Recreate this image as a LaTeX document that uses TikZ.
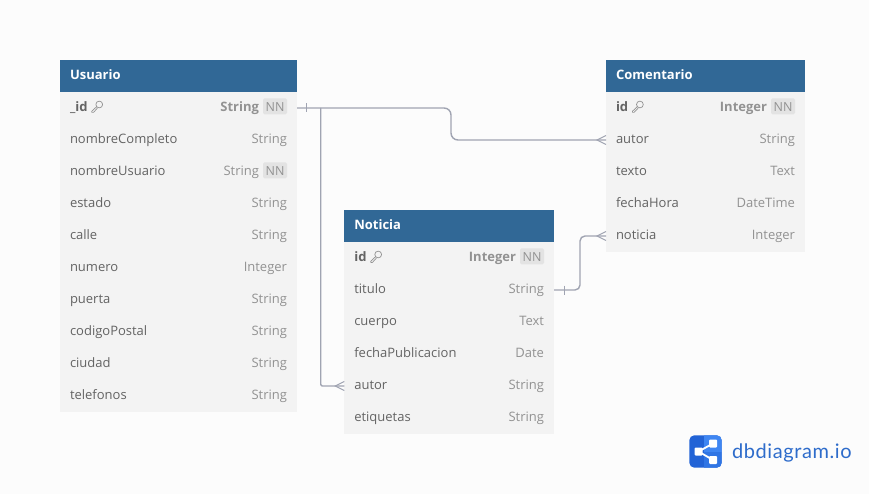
\documentclass[tikz,border=0pt]{standalone}
\usepackage{fontspec}
\setmainfont{Open Sans}
\newfontfamily\logofont[LetterSpace=3]{Lato}
\usetikzlibrary{calc}
\definecolor{pagebg}{HTML}{FCFCFC}
\definecolor{headbg}{HTML}{316896}
\definecolor{rowbg}{HTML}{F3F3F3}
\definecolor{nametxt}{HTML}{636363}
\definecolor{typetxt}{HTML}{929292}
\definecolor{nnbg}{HTML}{E3E3E3}
\definecolor{linkc}{HTML}{A0A4B2}
\definecolor{logodark}{HTML}{2263D6}
\definecolor{logolight}{HTML}{3F86F2}
\definecolor{logotxt}{HTML}{2E6CCB}
\tikzset{
  x=1pt,y=-1pt,
  every node/.style={inner sep=0pt,outer sep=0pt},
  fixedline/.style={text height=10pt,text depth=3pt},
  headbox/.style={fill=headbg,anchor=north west,minimum height=32pt},
  headtxt/.style={fixedline,text=white,anchor=west,font=\fontsize{13}{15}\selectfont\bfseries},
  rowbox/.style={fill=rowbg,anchor=north west,minimum height=32pt},
  nametext/.style={fixedline,text=nametxt,anchor=west,font=\fontsize{13}{15}\selectfont},
  typetext/.style={fixedline,text=typetxt,anchor=east,font=\fontsize{13}{15}\selectfont},
  nnbox/.style={text height=11.5pt,text depth=1.1pt,fill=nnbg,rounded corners=1.5pt,anchor=east,minimum width=24pt,minimum height=16pt,text=typetxt,font=\fontsize{12.5}{15}\selectfont},
  link/.style={draw=linkc,line width=1.4pt,rounded corners=7pt},
  linkmark/.style={draw=linkc,line width=1pt},
  keyicon/.style={draw=typetxt,line width=.7pt,line join=round},
  logoknot/.style={fill=white,rounded corners=1pt},
}
% #1 id, #2 name, #3 type, #4 width, #5 y offset of row from the table top
\newcommand{\fieldrow}[5]{%
  \node[rowbox,minimum width=#4pt] (#1) at ($(\tabx,\taby)+(0,#5)$) {};
  \node[nametext] (#1-n) at ($(#1.west)+(10,0)$) {#2};
  \node[typetext] (#1-t) at ($(#1.east)+(-10,0)$) {#3};
}
\newcommand{\nnrow}[5]{%
  \node[rowbox,minimum width=#4pt] (#1) at ($(\tabx,\taby)+(0,#5)$) {};
  \node[nametext] (#1-n) at ($(#1.west)+(10,0)$) {#2};
  \node[nnbox] (#1-b) at ($(#1.east)+(-10,-1.7)$) {NN};
  \node[typetext] (#1-t) at ($(#1.east)+(-38,0)$) {#3};
}
\newcommand{\pkrow}[5]{%
  \node[rowbox,minimum width=#4pt] (#1) at ($(\tabx,\taby)+(0,#5)$) {};
  \node[nametext,font=\fontsize{13}{15}\selectfont\bfseries] (#1-n) at ($(#1.west)+(10,0)$) {#2};
  \node[nnbox] (#1-b) at ($(#1.east)+(-10,-1.7)$) {NN};
  \node[typetext,font=\fontsize{13}{15}\selectfont\bfseries] (#1-t) at ($(#1.east)+(-38,0)$) {#3};
  \begin{scope}[shift={($(#1-n.east)+(9.5,0)$)}]
    \draw[keyicon] (2.2,-3.5) circle[radius=3.4pt];
    \draw[keyicon] (-0.2,-1.5) -- (-5.2,3.2) -- (-5.2,4.4) -- (-3.6,4.4) -- (0.4,0.2);
  \end{scope}
}
\begin{document}
\begin{tikzpicture}
\useasboundingbox (0,0) rectangle (869,494);
\fill[pagebg] (0,0) rectangle (869,494);

% Usuario
\def\tabx{60}\def\taby{60}
\node[headbox,minimum width=237pt] (usuario) at (\tabx,\taby) {};
\node[headtxt] (usuario-l) at ($(usuario.west)+(10,0)$) {Usuario};
\pkrow{uid}{\_id}{String}{237}{32}
\fieldrow{unc}{nombreCompleto}{String}{237}{64}
\nnrow{unu}{nombreUsuario}{String}{237}{96}
\fieldrow{ues}{estado}{String}{237}{128}
\fieldrow{uca}{calle}{String}{237}{160}
\fieldrow{unm}{numero}{Integer}{237}{192}
\fieldrow{upu}{puerta}{String}{237}{224}
\fieldrow{ucp}{codigoPostal}{String}{237}{256}
\fieldrow{uci}{ciudad}{String}{237}{288}
\fieldrow{ute}{telefonos}{String}{237}{320}

% Comentario
\def\tabx{606}\def\taby{60}
\node[headbox,minimum width=199pt] (comentario) at (\tabx,\taby) {};
\node[headtxt] (comentario-l) at ($(comentario.west)+(10,0)$) {Comentario};
\pkrow{cid}{id}{Integer}{199}{32}
\fieldrow{cau}{autor}{String}{199}{64}
\fieldrow{cte}{texto}{Text}{199}{96}
\fieldrow{cfe}{fechaHora}{DateTime}{199}{128}
\fieldrow{cno}{noticia}{Integer}{199}{160}

% Noticia
\def\tabx{344.3}\def\taby{210}
\node[headbox,minimum width=209.7pt] (noticia) at (\tabx,\taby) {};
\node[headtxt] (noticia-l) at ($(noticia.west)+(10,0)$) {Noticia};
\pkrow{nid}{id}{Integer}{209.7}{32}
\fieldrow{nti}{titulo}{String}{209.7}{64}
\fieldrow{ncu}{cuerpo}{Text}{209.7}{96}
\fieldrow{nfe}{fechaPublicacion}{Date}{209.7}{128}
\fieldrow{nau}{autor}{String}{209.7}{160}
\fieldrow{net}{etiquetas}{String}{209.7}{192}

% Connectors
\coordinate (benda) at (451,108);
\coordinate (bendb) at (320.7,108);
\coordinate (bendc) at (580,290);
\draw[link] (uid.east) -- (benda |- uid.east) -- (benda |- cau.west) -- (cau.west);
\draw[link,rounded corners=1.5pt] (bendb) -- (bendb |- nau.west) -- (nau.west);
\draw[link,rounded corners=5pt] (nti.east) -- (bendc |- nti.east) -- (bendc |- cno.west) -- (cno.west);

% one-side ticks
\draw[linkmark] ($(uid.east)+(9.7,-4.5)$) -- ($(uid.east)+(9.7,4.5)$);
\draw[linkmark] ($(nti.east)+(10,-4.5)$) -- ($(nti.east)+(10,4.5)$);

% many-side crow's feet
\draw[linkmark] (cau.west) ++(0,-4.5) -- ++(-9,4.5) -- ++(9,4.5);
\draw[linkmark] (cno.west) ++(0,-4.5) -- ++(-9,4.5) -- ++(9,4.5);
\draw[linkmark] (nau.west) ++(0,-4.5) -- ++(-9,4.5) -- ++(9,4.5);

% Logo
\begin{scope}
  \clip[rounded corners=5pt] (689.3,435.3) rectangle (721.7,467.7);
  \fill[logodark] (689.3,435.3) rectangle (721.7,467.7);
  \fill[logolight] (704,435.3) rectangle (721.7,451.5);
  \fill[logolight!50!logodark] (704,451.5) rectangle (721.7,467.7);
\end{scope}
\draw[white,line width=1.8pt] (713,443.5) -- (698.5,451.5) -- (713,460);
\fill[logoknot] (694.5,447.5) rectangle (702.5,455.5);
\fill[logoknot] (709,439.5) rectangle (717,447.5);
\fill[logoknot] (709,456) rectangle (717,464);
\node[text=logotxt,anchor=west,font=\logofont\fontsize{20}{24}\selectfont] (logotext) at (732,453) {dbdiagram.io};
\end{tikzpicture}
\end{document}
